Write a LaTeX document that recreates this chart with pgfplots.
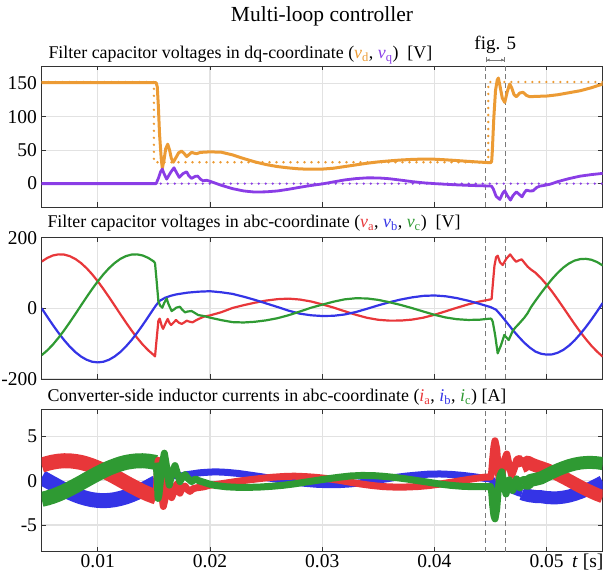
\documentclass[border=0pt]{standalone}
\usepackage{fontspec}
\setmainfont{Liberation Serif}
\usepackage{pgfplots}
\pgfplotsset{compat=1.18}
\usetikzlibrary{arrows.meta}

\definecolor{cD}{HTML}{EC9B34}
\definecolor{cQ}{HTML}{8A3DE6}
\definecolor{cA}{HTML}{E8373A}
\definecolor{cB}{HTML}{3434E6}
\definecolor{cC}{HTML}{2F9A33}
\definecolor{gridgray}{HTML}{E2E2E2}
\definecolor{axgray}{HTML}{333333}
\definecolor{markgray}{HTML}{7A7A7A}

\newcommand\tickfont{\fontsize{19.5}{19.5}\selectfont}
\newcommand\ptitlefont{\fontsize{17.9}{17.9}\selectfont}

\pgfplotsset{
  panel/.style={
    scale only axis, width=561pt, anchor=south west,
    xmin=0.005, xmax=0.055,
    xtick={0.01,0.02,0.03,0.04,0.05},
    scaled x ticks=false, scaled y ticks=false,
    tick align=inside, tick pos=both,
    major tick length=4.5pt,
    grid=major,
    major grid style={draw=gridgray, line width=1.2pt},
    axis line style={draw=axgray, line width=0.9pt},
    major tick style={draw=axgray, line width=0.9pt},
    tick label style={font=\tickfont},
    yticklabel style={inner sep=0pt, xshift=-4.5pt},
    xticklabel style={inner sep=0pt, anchor=base, yshift=-16pt},
    clip=true,
  },
  faultmark/.style={draw=markgray, line width=0.9pt, dash pattern=on 5pt off 3.5pt, forget plot},
  vline/.style={line width=2.2pt, line join=round, no marks},
  dline/.style={line width=3pt, line join=round, no marks},
  dots/.style={line width=2.6pt, line cap=round, dash pattern=on 0pt off 7pt, no marks},
  band/.style={line join=round, line cap=butt, no marks},
}

\begin{document}
\begin{tikzpicture}
\useasboundingbox (0,0) rectangle (609pt,575pt);

% ---------------- dq voltages ----------------
\begin{axis}[panel, at={(41.7pt,368pt)}, height=141pt,
  ymin=-35, ymax=176, ytick={0,50,100,150}, yticklabels={0,50,100,150},
  xticklabels={}]
\addplot[faultmark] coordinates {(0.04457,-35) (0.04457,176)};
\addplot[faultmark] coordinates {(0.04629,-35) (0.04629,176)};
% references
\addplot[dots, cD] coordinates {(0.005,152) (0.015,152) (0.015,32) (0.0448,32) (0.0448,152) (0.055,152)};
\addplot[dots, cQ] coordinates {(0.005,0) (0.055,0)};
% v_d
\addplot[dline, cD] coordinates {
(0.005,151)(0.0152,151)(0.0153,145)(0.0154,115)(0.0155,75)(0.01565,38)(0.01575,23)(0.0159,35)(0.01605,52)(0.01623,59)(0.0164,50)(0.01655,38)(0.01673,32)(0.0169,37)(0.0172,46)(0.01747,48.7)(0.0177,45)(0.01792,40.5)(0.0181,43)(0.01836,46.8)(0.0186,45.5)(0.0188,44.8)(0.0191,46.5)(0.0194,47)(0.02,47.5)(0.021,47)(0.022,43)(0.023,37.5)(0.024,32.5)(0.025,28.5)(0.026,25.5)(0.027,23.5)(0.028,22)(0.029,21.5)(0.030,21.7)(0.031,23)(0.032,25.5)(0.033,28)(0.034,30.5)(0.035,32.5)(0.036,34)(0.037,35.3)(0.038,36.2)(0.039,36.7)(0.040,36.5)(0.041,35.6)(0.042,34.5)(0.043,33.3)(0.044,32.2)(0.045,31.3)(0.0451,33)(0.04515,45)(0.0453,100)(0.04545,140)(0.0456,155)(0.0457,158)(0.0458,150)(0.04605,128)(0.04627,121.5)(0.0465,138)(0.04671,149)(0.0469,143)(0.0471,133)(0.04731,130)(0.0476,135.5)(0.0479,136.7)(0.0482,132)(0.0485,130)(0.049,130.5)(0.05,131)(0.051,133)(0.052,136)(0.053,139)(0.054,143.5)(0.055,149)};
% v_q
\addplot[dline, cQ, line width=2.8pt] coordinates {
(0.005,0)(0.0152,0)(0.0154,8)(0.0156,18)(0.01575,21.7)(0.0159,15)(0.01614,6.7)(0.0165,17)(0.01679,23.7)(0.0170,17)(0.01726,9.3)(0.0176,15)(0.01792,17.7)(0.0181,12)(0.01836,7.8)(0.0187,11)(0.0189,11.2)(0.0192,6)(0.0194,4.2)(0.0197,5)(0.02,3.5)(0.021,-2.5)(0.022,-7.5)(0.023,-11)(0.024,-12.7)(0.025,-12.3)(0.026,-11)(0.027,-8.5)(0.028,-5.5)(0.029,-2.8)(0.030,-0.5)(0.031,2.5)(0.032,5.5)(0.033,7.5)(0.034,8.6)(0.035,8.5)(0.036,7.3)(0.037,5.2)(0.038,3)(0.039,1.2)(0.040,0)(0.041,-1)(0.042,-1.9)(0.043,-2.6)(0.044,-3.2)(0.045,-3.6)(0.0451,-4)(0.04525,-8)(0.0455,-19)(0.04583,-23.7)(0.0461,-14)(0.04627,-10.8)(0.0465,-18)(0.04678,-24.7)(0.0470,-18)(0.04731,-12.3)(0.04755,-16)(0.04781,-19.8)(0.048,-14)(0.0482,-9.8)(0.0485,-11)(0.04879,-10.8)(0.0491,-6)(0.0494,-3.7)(0.0497,-3)(0.05,-2)(0.0503,-1)(0.051,3)(0.052,7.5)(0.053,11.2)(0.054,13.5)(0.055,15.3)};
\end{axis}

% ---------------- abc voltages ----------------
\begin{axis}[panel, at={(41.7pt,196pt)}, height=141.3pt,
  ymin=-200, ymax=200, ytick={-200,0,200}, yticklabels={-200,0,200},
  xticklabels={}]
\addplot[faultmark] coordinates {(0.04457,-200) (0.04457,200)};
\addplot[faultmark] coordinates {(0.04629,-200) (0.04629,200)};
% v_a
\addplot[vline, cA] coordinates {
(0.005,132.5)(0.0055,142.8)(0.006,149.7)(0.0065,152.8)(0.007,152.2)(0.0075,147.8)(0.008,139.8)(0.0085,128.3)(0.009,113.7)(0.0095,96.3)(0.01,76.5)(0.0105,54.8)(0.011,31.8)(0.0115,8.0)(0.012,-16.0)(0.0125,-39.6)(0.013,-62.2)(0.0135,-83.3)(0.014,-102.4)(0.0145,-118.9)(0.015,-132.5)
(0.0151,-136)(0.01525,-85)(0.0154,-35)(0.01552,-29)(0.0157,-50)(0.01582,-58)(0.016,-45)(0.01623,-30)(0.0164,-42)(0.01653,-47)(0.0167,-42)(0.01697,-33)(0.0172,-40)(0.01747,-44)(0.0177,-40)(0.01792,-35)(0.0182,-38)(0.01845,-39.5)(0.0188,-33)(0.0191,-28.5)(0.0195,-23)
(0.020,-20)(0.021,-11)(0.022,1)(0.023,9)(0.024,16)(0.025,22)(0.026,26)(0.027,27.5)(0.028,25)(0.029,19.5)(0.030,11.3)(0.031,2.3)(0.032,-8.1)(0.033,-18.2)(0.034,-26.8)(0.035,-32.4)(0.036,-34.8)(0.037,-34.6)(0.038,-31.9)(0.039,-26.5)(0.040,-18.3)(0.041,-8.4)(0.042,1.7)(0.043,11.2)(0.044,19.2)(0.045,25.3)
(0.0451,27)(0.0452,66)(0.04535,120)(0.0455,145)(0.04564,149)(0.04585,130)(0.04608,122.6)(0.0464,140)(0.04675,152.7)(0.04705,140)(0.04728,132)(0.04755,136)(0.04778,138.6)(0.04805,128)(0.04831,118)(0.0486,110)(0.049,101)(0.0495,85.4)(0.05,67.2)(0.0505,46.8)(0.051,24.7)(0.0515,1.7)(0.052,-21.7)(0.0525,-44.8)(0.053,-66.8)(0.0535,-87.2)(0.054,-106.1)(0.0545,-122.5)(0.055,-136.7)};
% v_b
\addplot[vline, cB] coordinates {
(0.005,0)(0.0055,-23.9)(0.006,-47.3)(0.0065,-69.5)(0.007,-90.0)(0.0075,-108.2)(0.008,-123.8)(0.0085,-136.3)(0.009,-145.5)(0.0095,-151.2)(0.01,-153)(0.0105,-151.2)(0.011,-145.5)(0.0115,-136.3)(0.012,-123.8)(0.0125,-108.2)(0.013,-90.0)(0.0135,-69.5)(0.014,-47.3)(0.0145,-23.9)(0.015,0)
(0.0152,9)(0.0155,21)(0.016,30)(0.0165,35.5)(0.017,39.5)(0.0175,42)(0.018,44.5)(0.019,47.2)
(0.020,48.5)(0.021,45.5)(0.022,41)(0.023,33)(0.024,24)(0.025,14)(0.026,4)(0.027,-6.5)(0.028,-15)(0.029,-19.6)(0.030,-21.7)(0.031,-21.1)(0.032,-17.4)(0.033,-10.4)(0.034,-1.2)(0.035,8.5)(0.036,17.4)(0.037,25.0)(0.038,31.0)(0.039,35.3)(0.040,36.5)(0.041,34.2)(0.042,29.0)(0.043,21.7)(0.044,13.0)(0.045,3.6)
(0.0455,-4)(0.046,-22)(0.0465,-42)(0.047,-62)(0.0475,-80)(0.048,-97)(0.0485,-111)(0.049,-122.3)(0.0495,-128.5)(0.05,-131)(0.0505,-130.3)(0.051,-125.6)(0.0515,-117.4)(0.052,-105.6)(0.0525,-90.5)(0.053,-72.6)(0.0535,-53.0)(0.054,-31.5)(0.0545,-8.6)(0.055,15.3)};
% v_c
\addplot[vline, cC] coordinates {
(0.005,-132.5)(0.0055,-118.9)(0.006,-102.4)(0.0065,-83.3)(0.007,-62.2)(0.0075,-39.6)(0.008,-16.0)(0.0085,8.0)(0.009,31.8)(0.0095,54.8)(0.01,76.5)(0.0105,96.3)(0.011,113.7)(0.0115,128.3)(0.012,139.8)(0.0125,147.8)(0.013,152.2)(0.0135,152.8)(0.014,149.7)(0.0145,142.8)(0.015,132.5)
(0.0151,128)(0.01525,75)(0.0154,20)(0.01555,8)(0.01575,1.7)(0.0159,14)(0.01614,28)(0.0163,12)(0.01658,-7.6)(0.0168,-3)(0.0170,2)(0.01732,4.6)(0.0175,-3)(0.01777,-11.4)(0.018,-9)(0.01836,-7.6)(0.0187,-14)(0.01895,-19)(0.0195,-22)
(0.020,-26.3)(0.021,-33.3)(0.022,-39)(0.023,-40)(0.024,-38)(0.025,-34)(0.026,-28)(0.027,-19.5)(0.028,-9)(0.029,1.7)(0.030,10.4)(0.031,18.8)(0.032,25.5)(0.033,28.6)(0.034,28.0)(0.035,23.9)(0.036,17.3)(0.037,9.6)(0.038,0.8)(0.039,-8.8)(0.040,-18.3)(0.041,-25.8)(0.042,-30.7)(0.043,-32.8)(0.044,-32.2)(0.045,-28.9)
(0.0451,-31)(0.0452,-38)(0.04541,-75)(0.04564,-127.3)(0.04594,-104)(0.04623,-75.5)(0.04662,-89.7)(0.04698,-64)(0.0472,-55)(0.04757,-42.4)(0.048,-27)(0.0483,-14)(0.0486,3)(0.049,21.3)(0.0495,43.1)(0.05,63.8)(0.0505,83.5)(0.051,100.8)(0.0515,115.7)(0.052,127.3)(0.0525,135.3)(0.053,139.4)(0.0535,140.2)(0.054,137.5)(0.0545,131.1)(0.055,121.4)};
\end{axis}

% ---------------- converter-side currents ----------------
\begin{axis}[panel, at={(41.7pt,23.3pt)}, height=142pt,
  ymin=-8, ymax=8, ytick={-5,0,5}, yticklabels={-5,0,5},
  xticklabels={0.01,0.02,0.03,0.04,0.05}]
\addplot[faultmark] coordinates {(0.04457,-8) (0.04457,8)};
\addplot[faultmark] coordinates {(0.04629,-8) (0.04629,8)};
% before the sag: wide switching ripple
\addplot[band, cB, line width=15pt] coordinates {
(0.005,0.35)(0.0055,0)(0.006,-0.35)(0.0065,-0.70)(0.007,-1.02)(0.0075,-1.32)(0.008,-1.59)(0.0085,-1.82)(0.009,-2.00)(0.0095,-2.14)(0.01,-2.22)(0.0105,-2.25)(0.011,-2.22)(0.0115,-2.14)(0.012,-2.00)(0.0125,-1.82)(0.013,-1.59)(0.0135,-1.32)(0.014,-1.02)(0.0145,-0.70)(0.015,-0.35)(0.0152,-0.21)};
\addplot[band, cA, line width=15pt] coordinates {
(0.005,1.75)(0.0055,1.95)(0.006,2.10)(0.0065,2.20)(0.007,2.25)(0.0075,2.24)(0.008,2.17)(0.0085,2.06)(0.009,1.89)(0.0095,1.67)(0.01,1.42)(0.0105,1.13)(0.011,0.81)(0.0115,0.47)(0.012,0.12)(0.0125,-0.24)(0.013,-0.58)(0.0135,-0.91)(0.014,-1.23)(0.0145,-1.51)(0.015,-1.75)(0.0152,-1.83)};
\addplot[band, cC, line width=15pt] coordinates {
(0.005,-2.10)(0.0055,-1.95)(0.006,-1.75)(0.0065,-1.51)(0.007,-1.23)(0.0075,-0.91)(0.008,-0.58)(0.0085,-0.24)(0.009,0.12)(0.0095,0.47)(0.01,0.81)(0.0105,1.13)(0.011,1.42)(0.0115,1.67)(0.012,1.89)(0.0125,2.06)(0.013,2.17)(0.0135,2.24)(0.014,2.25)(0.0145,2.20)(0.015,2.10)(0.0152,2.04)};
% during the sag and the recovery transient
\addplot[band, cB, line width=7pt] coordinates {
(0.0152,-0.21)(0.0155,0.0)(0.016,0.35)(0.0165,0.5)(0.017,0.6)(0.0175,0.55)(0.018,0.7)(0.0185,0.78)(0.019,0.88)(0.0195,0.93)(0.02,0.97)(0.0205,1.00)(0.0215,0.94)(0.0225,0.82)(0.0235,0.64)(0.0245,0.46)(0.0255,0.25)(0.0265,0.06)(0.0275,-0.14)(0.0285,-0.30)(0.0295,-0.40)(0.0305,-0.45)(0.0315,-0.44)(0.0325,-0.36)(0.0335,-0.22)(0.0345,-0.02)(0.0355,0.17)(0.0365,0.36)(0.0375,0.52)(0.0385,0.64)(0.0395,0.74)(0.0405,0.76)(0.0415,0.71)(0.0425,0.60)(0.0435,0.45)(0.0445,0.26)(0.045,0.2)(0.0452,0.0)(0.0455,-0.5)(0.046,-0.7)(0.0465,-0.8)(0.047,-1.1)(0.0475,-1.35)(0.0478,-1.45)};
\addplot[band, cA, line width=7pt] coordinates {
(0.0152,-1.83)(0.01525,-0.5)(0.0153,1.5)(0.01539,2.3)(0.0155,1.4)(0.0157,-1.6)(0.01584,-2.9)(0.016,-2.0)(0.01619,0.2)(0.0164,-0.8)(0.01658,-1.9)(0.0168,-1.2)(0.01703,-0.4)(0.0172,-1.0)(0.01732,-1.4)(0.0175,-0.9)(0.01777,-0.6)(0.018,-1.0)(0.01821,-1.2)(0.0185,-0.9)(0.0188,-0.8)(0.0194,-0.7)(0.02,-0.5)(0.0205,-0.44)(0.0215,-0.25)(0.0225,-0.06)(0.0235,0.10)(0.0245,0.25)(0.0255,0.38)(0.0265,0.47)(0.0275,0.51)(0.0285,0.46)(0.0295,0.37)(0.0305,0.23)(0.0315,0.05)(0.0325,-0.17)(0.0335,-0.38)(0.0345,-0.55)(0.0355,-0.67)(0.0365,-0.72)(0.0375,-0.71)(0.0385,-0.66)(0.0395,-0.55)(0.0405,-0.38)(0.0415,-0.17)(0.0425,0.03)(0.0435,0.23)(0.0445,0.40)(0.045,0.42)(0.0451,0.9)(0.0452,2.5)(0.0453,3.8)(0.0454,4.5)(0.04555,3.6)(0.0457,1.0)(0.04585,-0.9)(0.046,0.3)(0.0462,2.2)(0.04645,3.0)(0.0467,1.5)(0.04689,0.6)(0.0471,1.3)(0.04735,2.4)(0.0476,2.5)(0.0478,1.6)};
\addplot[band, cC, line width=7pt] coordinates {
(0.0152,2.04)(0.0153,0.2)(0.01537,-2.0)(0.01545,-1.6)(0.0157,1.5)(0.01593,3.1)(0.0161,1.8)(0.01637,-0.5)(0.0166,0.8)(0.01688,1.7)(0.0171,0.8)(0.01732,-0.1)(0.0175,0.3)(0.01777,0.7)(0.018,0.3)(0.01836,-0.1)(0.0187,0.2)(0.019,0.0)(0.0195,-0.2)(0.02,-0.4)(0.0205,-0.54)(0.0215,-0.69)(0.0225,-0.75)(0.0235,-0.75)(0.0245,-0.71)(0.0255,-0.63)(0.0265,-0.52)(0.0275,-0.36)(0.0285,-0.16)(0.0295,0.03)(0.0305,0.22)(0.0315,0.39)(0.0325,0.53)(0.0335,0.59)(0.0345,0.58)(0.0355,0.49)(0.0365,0.36)(0.0375,0.20)(0.0385,0.01)(0.0395,-0.18)(0.0405,-0.38)(0.0415,-0.53)(0.0425,-0.63)(0.0435,-0.68)(0.0445,-0.67)(0.045,-0.65)(0.0451,-1.2)(0.0452,-2.8)(0.0453,-3.9)(0.0454,-4.3)(0.04555,-3.2)(0.0457,-0.8)(0.04585,0.6)(0.046,1.0)(0.0462,-0.3)(0.04638,-1.5)(0.04655,-0.6)(0.04667,0.1)(0.0468,-0.5)(0.04698,-1.1)(0.04715,-0.4)(0.04733,0.2)(0.0475,-0.3)(0.04762,-0.8)(0.0478,-0.4)};
% after recovery
\addplot[band, cB, line width=13pt] coordinates {
(0.0478,-1.45)(0.048,-1.55)(0.0485,-1.7)(0.049,-1.78)(0.0495,-1.80)(0.05,-1.89)(0.0505,-1.93)(0.051,-1.92)(0.0515,-1.85)(0.052,-1.73)(0.0525,-1.55)(0.053,-1.33)(0.0535,-1.07)(0.054,-0.78)(0.0545,-0.46)(0.055,-0.13)};
\addplot[band, cA, line width=13pt] coordinates {
(0.0478,1.6)(0.048,1.7)(0.0483,2.1)(0.0486,1.9)(0.049,1.7)(0.0495,1.48)(0.05,1.26)(0.0505,0.99)(0.051,0.69)(0.0515,0.36)(0.052,0.03)(0.0525,-0.32)(0.053,-0.66)(0.0535,-0.98)(0.054,-1.28)(0.0545,-1.56)(0.055,-1.80)};
\addplot[band, cC, line width=13pt] coordinates {
(0.0478,-0.4)(0.048,-0.2)(0.0483,-0.3)(0.0485,0.0)(0.0488,0.1)(0.049,0.15)(0.0495,0.31)(0.05,0.63)(0.0505,0.94)(0.051,1.23)(0.0515,1.48)(0.052,1.70)(0.0525,1.87)(0.053,1.99)(0.0535,2.05)(0.054,2.06)(0.0545,2.02)(0.055,1.93)};
\end{axis}

% titles and annotations
\node[anchor=base, font=\fontsize{21.5}{21.5}\selectfont] at (322pt,553pt) {Multi-loop controller};
\node[anchor=base west, font=\ptitlefont] at (45pt,516.5pt)
  {Filter capacitor voltages in dq-coordinate (\textcolor{cD}{\textit{v}\textsubscript{d}}, \textcolor{cQ}{\textit{v}\textsubscript{q}})~~[V]};
\node[anchor=base west, font=\ptitlefont] at (44pt,347.5pt)
  {Filter capacitor voltages in abc-coordinate (\textcolor{cA}{\textit{v}\textsubscript{a}}, \textcolor{cB}{\textit{v}\textsubscript{b}}, \textcolor{cC}{\textit{v}\textsubscript{c}})~~[V]};
\node[anchor=base west, font=\ptitlefont] at (44pt,173.5pt)
  {Converter-side inductor currents in abc-coordinate (\textcolor{cA}{\textit{i}\textsubscript{a}}, \textcolor{cB}{\textit{i}\textsubscript{b}}, \textcolor{cC}{\textit{i}\textsubscript{c}}) [A]};
\node[anchor=base east, font=\tickfont] at (607pt,7.6pt) {\textit{t} [s]};
\node[anchor=base, font=\fontsize{19}{19}\selectfont] at (495.3pt,525pt) {fig. 5};
\draw[markgray, line width=0.8pt, {Bar[width=5pt]Latex[length=3pt,width=3pt]}-{Latex[length=3pt,width=3pt]Bar[width=5pt]}] (485.7pt,515pt) -- (505pt,515pt);
\end{tikzpicture}
\end{document}
